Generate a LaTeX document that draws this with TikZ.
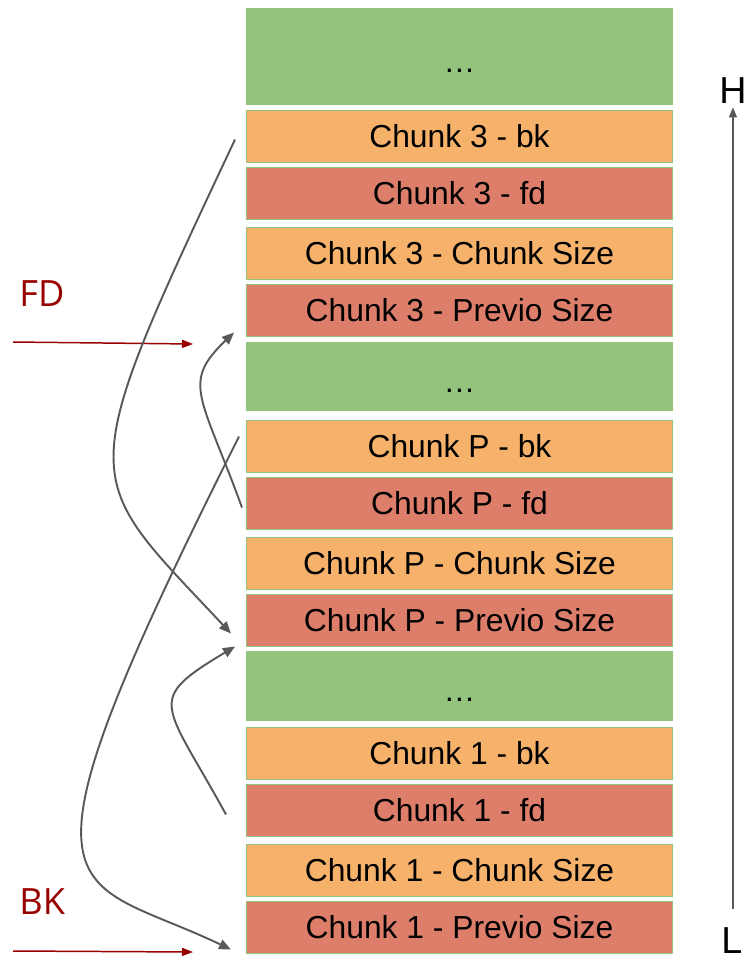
\documentclass[tikz,border=0pt]{standalone}
\usepackage{fontspec}
\setmainfont{Liberation Sans}
\newfontfamily\labfont{Open Sans}
\usetikzlibrary{positioning, arrows.meta, calc}

\definecolor{memgreen}{HTML}{93C47D}
\definecolor{memorange}{HTML}{F6B26B}
\definecolor{memred}{HTML}{DD7E6B}
\definecolor{ptrgray}{HTML}{595959}
\definecolor{ptrred}{HTML}{990000}

\begin{document}
\begin{tikzpicture}[
  x=0.02cm, y=-0.02cm,
  font=\fontsize{18.1}{22}\selectfont,
  >={Triangle[length=0.24cm, width=0.2cm]},
  memcell/.style={rectangle, anchor=north west, draw=memgreen, line width=0.6pt,
    minimum width=8.52cm, minimum height=1.04cm, inner sep=0pt,
    text height=13pt, text depth=0pt},
  bkcell/.style={memcell, fill=memorange},
  fdcell/.style={memcell, fill=memred},
  freecell/.style={memcell, fill=memgreen, text height=18pt},
  link/.style={->, ptrgray, line width=1.1pt},
  ptr/.style={->, ptrred, line width=0.85pt, >={Triangle[length=0.22cm, width=0.16cm]}},
  lbl/.style={ptrred, font=\labfont\fontsize{20.6}{24}\selectfont, inner sep=0pt, anchor=base west},
  axlbl/.style={inner sep=0pt, anchor=base west, font=\fontsize{21.4}{26}\selectfont,
    text height=15.3pt, text depth=0pt},
]

\useasboundingbox (0,0) rectangle (746,963);

% ---- heap column ----
\node[freecell, minimum height=1.92cm] (free0) at (246,8) {…};
\node[freecell, minimum height=1.36cm] (free1) at (246,342) {…};
\node[freecell, minimum height=1.38cm] (free2) at (246,651) {…};

\foreach \ch/\ty in {3/110, P/420, 1/727}{
  \node[bkcell] (bk\ch) at (246,\ty)     {Chunk \ch{} - bk};
  \node[fdcell] (fd\ch) at (246,\ty+57)  {Chunk \ch{} - fd};
  \node[bkcell] (cs\ch) at (246,\ty+117) {Chunk \ch{} - Chunk Size};
  \node[fdcell] (ps\ch) at (246,\ty+174) {Chunk \ch{} - Previo Size};
}

% ---- address direction (low -> high) ----
\node[axlbl] (hi) at (719,104) {H};
\node[axlbl] (lo) at (721,953) {L};
\coordinate (axfoot) at (hi.south |- 0,909);
\draw[->, ptrgray, line width=0.85pt, shorten >=0.06cm,
  >={Triangle[length=0.2cm, width=0.16cm]}] (axfoot) -- (hi.south);

% ---- list heads ----
\node[lbl] (fdhead) at (19,306) {FD};
\node[lbl] (bkhead) at (19,914) {BK};
\coordinate (fdfrom) at (13,342);
\coordinate (fdto)   at (193,344);
\coordinate (bkfrom) at (13,951);
\coordinate (bkto)   at (193,952);
\draw[ptr] (fdfrom) -- (fdto);
\draw[ptr] (bkfrom) -- (bkto);

% ============================================================
% bk / fd links (start just left of the field, end at the next chunk header)
% ============================================================
\draw[link] ($(bk3.west)+(-11,3)$) .. controls (70,490) and (80,472) .. ($(psP.west)+(-15,13)$);   % chunk 3 bk -> chunk P
\draw[link] ($(bkP.west)+(-7,-10)$) .. controls (-4,920) and (69,872) .. ($(ps1.west)+(-15,22)$);  % chunk P bk -> chunk 1
\draw[link] ($(fdP.west)+(-4,4)$) .. controls (201,395) and (181,383) .. ($(ps3.west)+(-12,22)$);  % chunk P fd -> chunk 3
\draw[link] ($(fd1.west)+(-20,4)$) .. controls (164,701) and (144,701) .. ($(psP.west)+(-11,26)$); % chunk 1 fd -> chunk P

\end{tikzpicture}
\end{document}
